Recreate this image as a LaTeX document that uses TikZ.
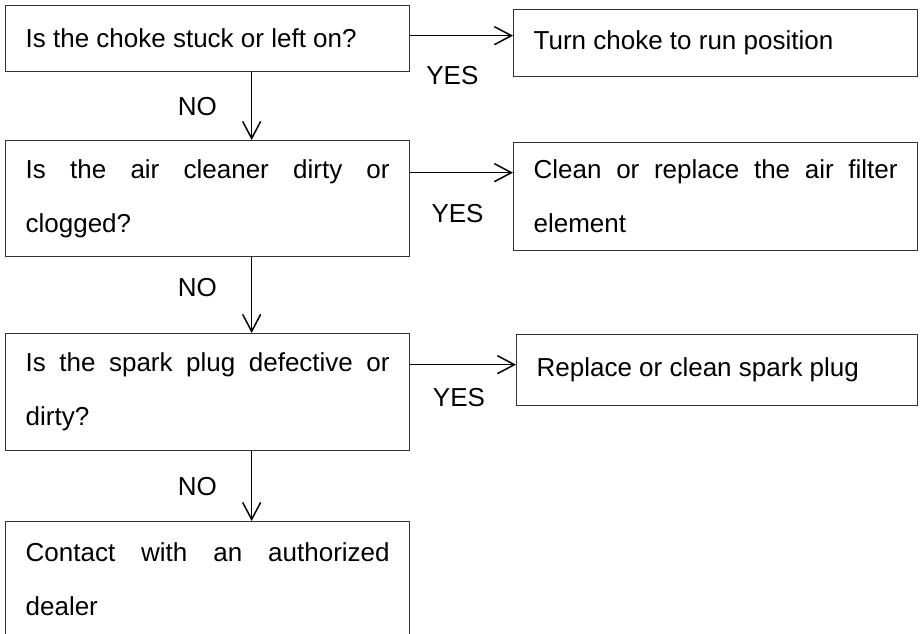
\documentclass[tikz,border=0pt]{standalone}
\usepackage{fontspec}
\setmainfont{Liberation Sans}
\usetikzlibrary{arrows.meta,positioning}
\tolerance=10000
\hyphenpenalty=10000
\hbadness=10000
\begin{document}
\begin{tikzpicture}[
        x=1pt, y=-1pt,
        box/.style={draw=black!80, line width=1.3pt, anchor=north west, minimum width=404pt,
            text width=364pt, inner xsep=20pt, inner ysep=0pt, align=justify,
            font=\fontsize{26}{54}\selectfont},
        flow/.style={-{Straight Barb[length=17pt,width=18pt]}, line width=1.5pt},
        lbl/.style={font=\fontsize{26}{30}\selectfont, inner sep=0pt}
    ]
        \useasboundingbox (0,0) rectangle (922,634);
        \clip (0,0) rectangle (922,634);

        % Checks
        \node[box, minimum height=66pt] (q1) at (5,5) {Is the choke stuck or left on?};
        \node[box, minimum height=116pt] (q2) at (5,140) {Is the air cleaner dirty or\linebreak clogged?};
        \node[box, minimum height=117pt] (q3) at (5,333) {Is the spark plug defective or\linebreak dirty?};
        \node[box, minimum height=116pt] (q4) at (5,521) {Contact with an authorized\linebreak dealer};

        % Remedies
        \node[box, minimum height=67pt] (a1) at (513,9) {Turn choke to run position};
        \node[box, minimum height=108pt] (a2) at (513,142) {Clean or replace the air filter\linebreak element};
        \node[box, text width=361pt, minimum width=401pt, minimum height=71pt] (a3) at (516,334) {Replace or clean spark plug};

        % YES branches
        \coordinate (y1) at ([yshift=3pt]q1.east);
        \coordinate (y2) at ([yshift=26pt]q2.east);
        \coordinate (y3) at ([yshift=27.5pt]q3.east);
        \draw[flow] (y1) -- (y1 -| a1.west) node[lbl, pos=0.41, below=30pt] (yes1) {YES};
        \draw[flow] (y2) -- (y2 -| a2.west) node[lbl, pos=0.46, below=31pt] (yes2) {YES};
        \draw[flow] (y3) -- (y3 -| a3.west) node[lbl, pos=0.46, below=23pt] (yes3) {YES};

        % NO branches
        \coordinate (n1) at ([xshift=44pt]q1.south);
        \coordinate (n2) at ([xshift=44pt]q2.south);
        \coordinate (n3) at ([xshift=44pt]q3.south);
        \draw[flow] (n1) -- (n1 |- q2.north) node[lbl, midway, left=34pt] (no1) {NO};
        \draw[flow] (n2) -- (n2 |- q3.north) node[lbl, pos=0.4, left=34pt] (no2) {NO};
        \draw[flow] (n3) -- (n3 |- q4.north) node[lbl, midway, left=34pt] (no3) {NO};
    \end{tikzpicture}
\end{document}
